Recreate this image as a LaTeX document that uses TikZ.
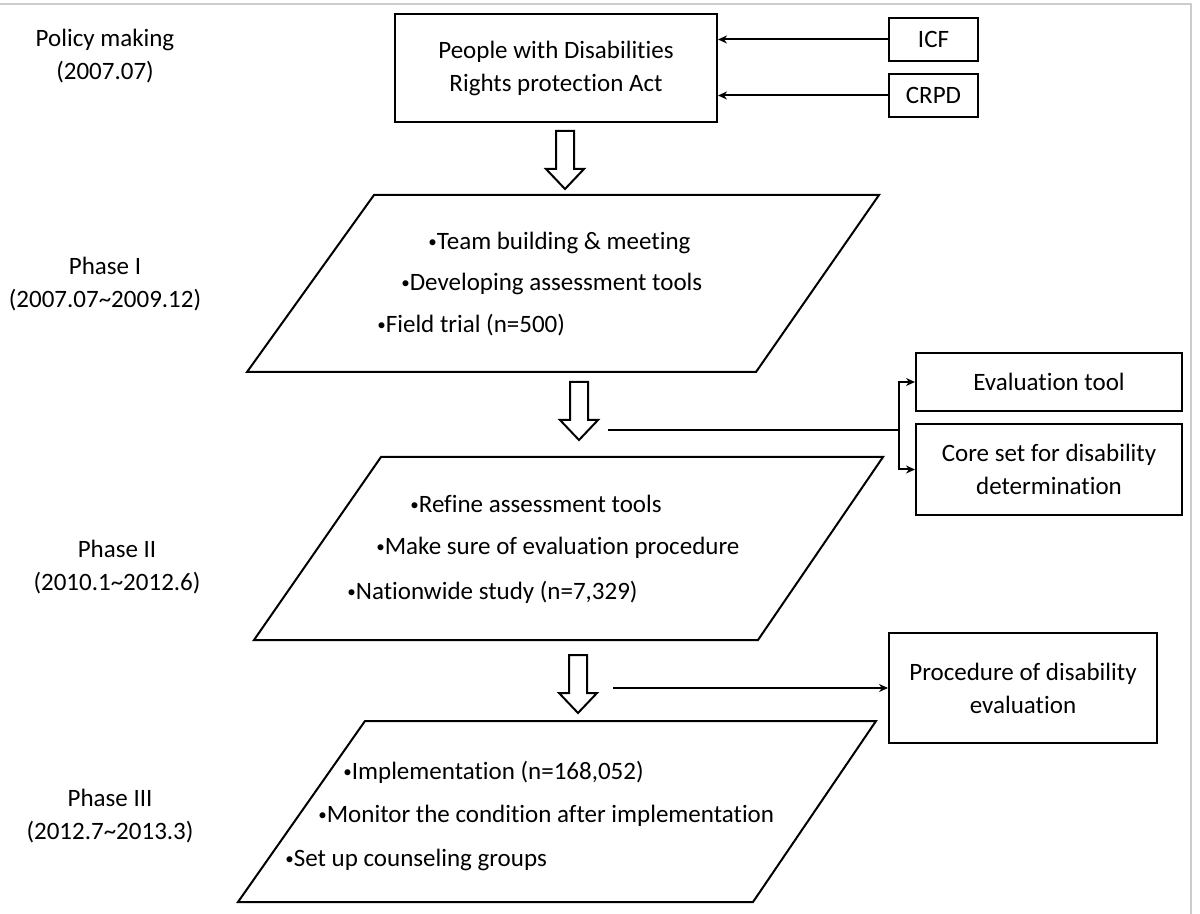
\documentclass[tikz,border=0pt]{standalone}
\usepackage{fontspec}
\setmainfont{Carlito}[Ligatures=NoCommon, RawFeature={-liga;-dlig;-clig}]
\usetikzlibrary{arrows.meta}
\newcommand{\fsz}{\fontsize{12.5}{16.5}\selectfont}
\newcommand{\bul}{{\fontsize{8.5}{8.5}\selectfont\raisebox{0.12em}{\char"2022}}}
\begin{document}
\begin{tikzpicture}[x=0.5pt,y=-0.5pt,
  box/.style={draw, line width=1pt, align=center, inner sep=0pt, font=\fsz},
  lbl/.style={align=center, inner sep=0pt, font=\fsz},
  item/.style={anchor=west, inner sep=0pt, font=\fsz},
  para/.style={draw, line width=1pt},
  conn/.style={line width=1pt, -{Stealth[length=4.5pt,width=4pt]}},
  plain/.style={line width=1pt},
  hollow/.style={draw, line width=1pt, fill=white, line join=miter},
  downarrow/.pic={\draw[hollow] (-9,0) -- (9,0) -- (9,38) -- (19,38) -- (0,58) -- (-19,38) -- (-9,38) -- cycle;}
]
\useasboundingbox (0,0) rectangle (1200,914);
% light frame
\draw[black!20, line width=1pt] (0,4) -- (1191,4) -- (1191,914);

% left labels
\node[lbl] (lpol) at (105,56) {Policy making\\(2007.07)};
\node[lbl] (lp1) at (105,284) {Phase I\\(2007.07\char"7E 2009.12)};
\node[lbl] (lp2) at (117,567) {Phase II\\(2010.1\char"7E 2012.6)};
\node[lbl] (lp3) at (110,816) {Phase III\\(2012.7\char"7E 2013.3)};

% top box and inputs
\node[box, minimum width=161pt, minimum height=54pt] (act) at (556,68) {People with Disabilities\\Rights protection Act};
\node[box, minimum width=44.5pt, minimum height=21.5pt] (icf) at (933.5,39.5) {ICF};
\node[box, minimum width=44.5pt, minimum height=21.5pt] (crpd) at (933.5,95.5) {CRPD};
\draw[conn] (icf.west) -- (icf.west -| act.east);
\draw[conn] (crpd.west) -- (crpd.west -| act.east);

% hollow arrows
\pic at (565,131) {downarrow};
\pic at (579,382) {downarrow};
\pic at (578,655) {downarrow};

% phase I
\draw[para] (374,195) coordinate (p1a) -- (879,195) coordinate (p1b) -- (756,372) coordinate (p1c) -- (247,372) coordinate (p1d) -- cycle;
\node[item] (t11) at (428,243) {\bul Team building \& meeting};
\node[item] (t12) at (401,284) {\bul Developing assessment tools};
\node[item] (t13) at (377,325) {\bul Field trial (n=500)};

% phase II
\draw[para] (381,457) coordinate (p2a) -- (883,457) coordinate (p2b) -- (758,640) coordinate (p2c) -- (254,640) coordinate (p2d) -- cycle;
\node[item] (t21) at (410,504) {\bul Refine assessment tools};
\node[item] (t22) at (376,548) {\bul Make sure of evaluation procedure};
\node[item] (t23) at (347,592) {\bul Nationwide study (n=7,329)};

% phase III
\draw[para] (365,721) coordinate (p3a) -- (876,721) coordinate (p3b) -- (753,902) coordinate (p3c) -- (238,902) coordinate (p3d) -- cycle;
\node[item] (t31) at (343,772) {\bul Implementation (n=168,052)};
\node[item] (t32) at (318,816) {\bul Monitor the condition after implementation};
\node[item] (t33) at (285,860) {\bul Set up counseling groups};

% outputs
\node[box, minimum width=133pt, minimum height=29pt] (eval) at (1049,382) {Evaluation tool};
\node[box, minimum width=133pt, minimum height=45.5pt] (core) at (1049,469.5) {Core set for disability\\determination};
\node[box, minimum width=134pt, minimum height=55pt] (proc) at (1023,688) {Procedure of disability\\evaluation};

\coordinate (s2) at (608,430);
\coordinate (br) at (899,430);
\draw[plain] (s2) -- (br);
\draw[conn] (br) |- (eval.west);
\draw[conn] (br) |- (core.west);

\coordinate (s3) at (613,688);
\draw[conn] (s3) -- (proc.west);
\end{tikzpicture}
\end{document}
